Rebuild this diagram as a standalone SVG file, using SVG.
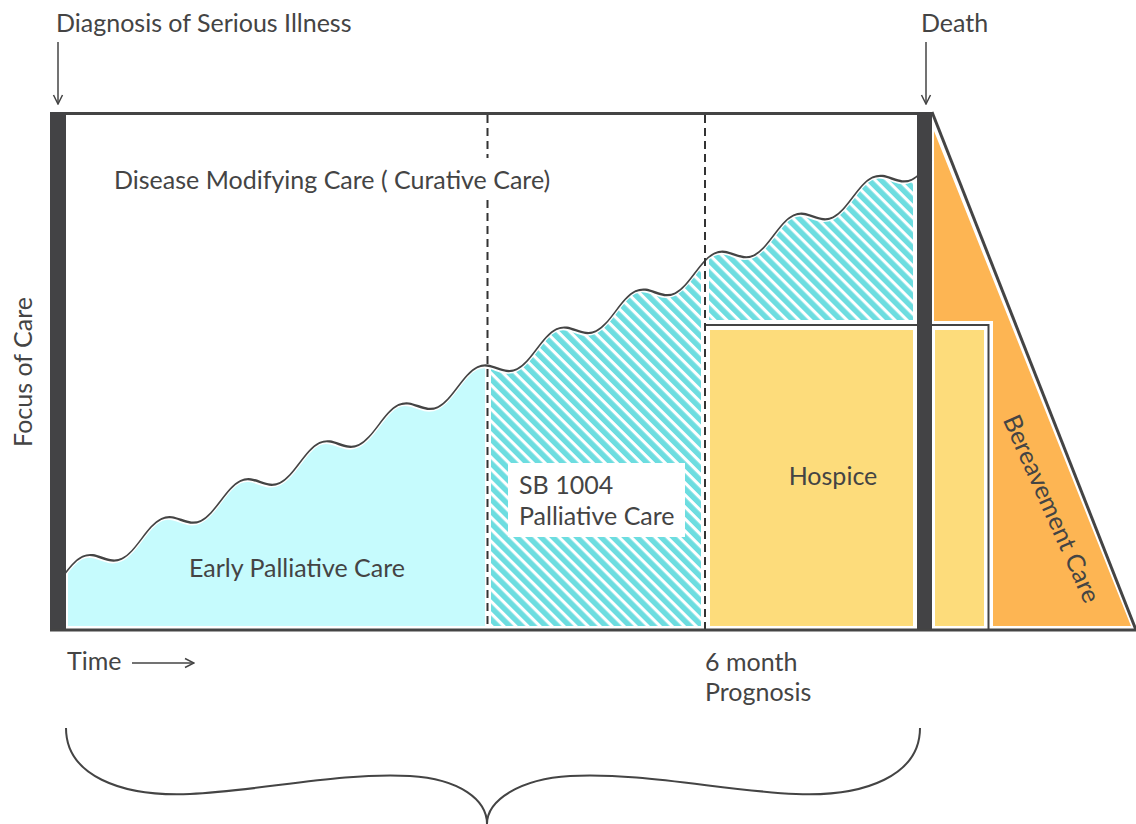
<svg xmlns="http://www.w3.org/2000/svg" width="1136" height="824" viewBox="0 0 1136 824">
<style>
text{font-family:Lato,"Open Sans","Liberation Sans",sans-serif;fill:#444;font-size:25px}
.dark{fill:#434345}
.ln{stroke:#444;fill:none}
.dash{stroke:#333;stroke-width:2;stroke-dasharray:8 5;fill:none}
.yel{fill:#FDDC7B}
.org{fill:#FDB553}
</style>
<defs>
<pattern id="hatch" patternUnits="userSpaceOnUse" width="8.5" height="8.5" patternTransform="rotate(-45)">
<rect width="8.5" height="8.5" fill="#fff"/>
<rect width="5.4" height="8.5" fill="#6DDDE0"/>
</pattern>
<clipPath id="wc">
<path transform="matrix(1,-0.48,0,1,0,606.8)" d="M62.55,0 c6.44,-5.38 12.6,-10.5 19.75,-10.5 s13.31,5.12 19.75,10.5 s12.6,10.5 19.75,10.5 s13.31,-5.12 19.75,-10.5 s12.6,-10.5 19.75,-10.5 s13.31,5.12 19.75,10.5 s12.6,10.5 19.75,10.5 s13.31,-5.12 19.75,-10.5 s12.6,-10.5 19.75,-10.5 s13.31,5.12 19.75,10.5 s12.6,10.5 19.75,10.5 s13.31,-5.12 19.75,-10.5 s12.6,-10.5 19.75,-10.5 s13.31,5.12 19.75,10.5 s12.6,10.5 19.75,10.5 s13.31,-5.12 19.75,-10.5 s12.6,-10.5 19.75,-10.5 s13.31,5.12 19.75,10.5 s12.6,10.5 19.75,10.5 s13.31,-5.12 19.75,-10.5 s12.6,-10.5 19.75,-10.5 s13.31,5.12 19.75,10.5 s12.6,10.5 19.75,10.5 s13.31,-5.12 19.75,-10.5 s12.6,-10.5 19.75,-10.5 s13.31,5.12 19.75,10.5 s12.6,10.5 19.75,10.5 s13.31,-5.12 19.75,-10.5 s12.6,-10.5 19.75,-10.5 s13.31,5.12 19.75,10.5 s12.6,10.5 19.75,10.5 s13.31,-5.12 19.75,-10.5 s12.6,-10.5 19.75,-10.5 s13.31,5.12 19.75,10.5 s12.6,10.5 19.75,10.5 s13.31,-5.12 19.75,-10.5 s12.6,-10.5 19.75,-10.5 s13.31,5.12 19.75,10.5 s12.6,10.5 19.75,10.5 s13.31,-5.12 19.75,-10.5 s12.6,-10.5 19.75,-10.5 s13.31,5.12 19.75,10.5 s12.6,10.5 19.75,10.5 s13.31,-5.12 19.75,-10.5 V1200 H62.55 Z"/>
</clipPath>
<path id="wave" transform="matrix(1,-0.48,0,1,0,606.8)" d="M62.55,0 c6.44,-5.38 12.6,-10.5 19.75,-10.5 s13.31,5.12 19.75,10.5 s12.6,10.5 19.75,10.5 s13.31,-5.12 19.75,-10.5 s12.6,-10.5 19.75,-10.5 s13.31,5.12 19.75,10.5 s12.6,10.5 19.75,10.5 s13.31,-5.12 19.75,-10.5 s12.6,-10.5 19.75,-10.5 s13.31,5.12 19.75,10.5 s12.6,10.5 19.75,10.5 s13.31,-5.12 19.75,-10.5 s12.6,-10.5 19.75,-10.5 s13.31,5.12 19.75,10.5 s12.6,10.5 19.75,10.5 s13.31,-5.12 19.75,-10.5 s12.6,-10.5 19.75,-10.5 s13.31,5.12 19.75,10.5 s12.6,10.5 19.75,10.5 s13.31,-5.12 19.75,-10.5 s12.6,-10.5 19.75,-10.5 s13.31,5.12 19.75,10.5 s12.6,10.5 19.75,10.5 s13.31,-5.12 19.75,-10.5 s12.6,-10.5 19.75,-10.5 s13.31,5.12 19.75,10.5 s12.6,10.5 19.75,10.5 s13.31,-5.12 19.75,-10.5 s12.6,-10.5 19.75,-10.5 s13.31,5.12 19.75,10.5 s12.6,10.5 19.75,10.5 s13.31,-5.12 19.75,-10.5 s12.6,-10.5 19.75,-10.5 s13.31,5.12 19.75,10.5 s12.6,10.5 19.75,10.5 s13.31,-5.12 19.75,-10.5 s12.6,-10.5 19.75,-10.5 s13.31,5.12 19.75,10.5 s12.6,10.5 19.75,10.5 s13.31,-5.12 19.75,-10.5 s12.6,-10.5 19.75,-10.5 s13.31,5.12 19.75,10.5 s12.6,10.5 19.75,10.5 s13.31,-5.12 19.75,-10.5"/>
<marker id="arr" viewBox="0 0 12 12" refX="11" refY="6" markerWidth="12" markerHeight="12" markerUnits="userSpaceOnUse" orient="auto">
<path d="M2,1.5 L11,6 L2,10.5" fill="none" stroke="#444" stroke-width="1.5"/>
</marker>
</defs>
<rect width="1136" height="824" fill="#fff"/>

<g id="curative">
<text x="114" y="189">Disease Modifying Care ( Curative Care)</text>
</g>

<g id="palliative-fills" clip-path="url(#wc)">
<rect x="68" y="100" width="417" height="526" fill="#C6FBFD"/>
<rect x="491" y="100" width="210" height="526" fill="url(#hatch)"/>
<rect x="709" y="100" width="204" height="220" fill="url(#hatch)"/>
</g>
<g id="wave-line">
<use href="#wave" stroke="#fff" stroke-width="5" fill="none" vector-effect="non-scaling-stroke"/>
<use href="#wave" stroke="#444" stroke-width="2" fill="none" vector-effect="non-scaling-stroke"/>
</g>

<g id="early">
<text x="297" y="577" text-anchor="middle">Early Palliative Care</text>
</g>

<g id="bereavement">
<polygon class="org" points="934,131 1131,626 993,626 993,321 934,321"/>
<line class="ln" x1="932" y1="112" x2="1136" y2="630" stroke-width="3"/>
<text transform="translate(1051,509) rotate(66)" y="8" text-anchor="middle">Bereavement Care</text>
</g>

<g id="hospice">
<rect class="yel" x="710" y="330" width="203" height="296"/>
<rect class="yel" x="935" y="330" width="49" height="296"/>
<path class="ln" d="M705,325 H988.5 V630" stroke="#555" stroke-width="2"/>
<text x="833" y="485" text-anchor="middle">Hospice</text>
</g>

<g id="sb1004">
<rect x="508" y="463" width="177" height="74" fill="#fff"/>
<text x="519" y="494">SB 1004</text>
<text x="519" y="525">Palliative Care</text>
</g>

<g id="frame">
<line class="dash" x1="487.5" y1="115" x2="487.5" y2="158"/>
<line class="dash" x1="487.5" y1="200" x2="487.5" y2="629"/>
<line class="dash" x1="705" y1="115" x2="705" y2="629"/>
<line class="ln" x1="50" y1="113.5" x2="918" y2="113.5" stroke-width="3"/>
<rect class="dark" x="50" y="112" width="16" height="519"/>
<rect class="dark" x="917" y="112" width="15" height="519"/>
<line class="ln" x1="50" y1="630" x2="1136" y2="630" stroke-width="3"/>
</g>

<g id="labels">
<text x="56" y="32">Diagnosis of Serious Illness</text>
<text x="921" y="32">Death</text>
<text transform="translate(32,372) rotate(-90)" text-anchor="middle">Focus of Care</text>
<text x="67" y="670">Time</text>
<text x="705" y="671">6 month</text>
<text x="705" y="701">Prognosis</text>
</g>

<g id="connectors">
<line class="ln" x1="58" y1="42" x2="58" y2="104" stroke-width="1.5" marker-end="url(#arr)"/>
<line class="ln" x1="926" y1="42" x2="926" y2="104" stroke-width="1.5" marker-end="url(#arr)"/>
<line class="ln" x1="132" y1="663" x2="194" y2="663" stroke-width="1.5" marker-end="url(#arr)"/>
<path class="ln" stroke-width="2" d="M66,728 C66,775 120,797 190,794 C260,791 340,772 410,776 C460,779 487,800 487,824"/>
<path class="ln" stroke-width="2" d="M920,728 C920,775 866,797 796,794 C726,791 640,772 570,776 C520,779 487,800 487,824"/>
</g>
</svg>
